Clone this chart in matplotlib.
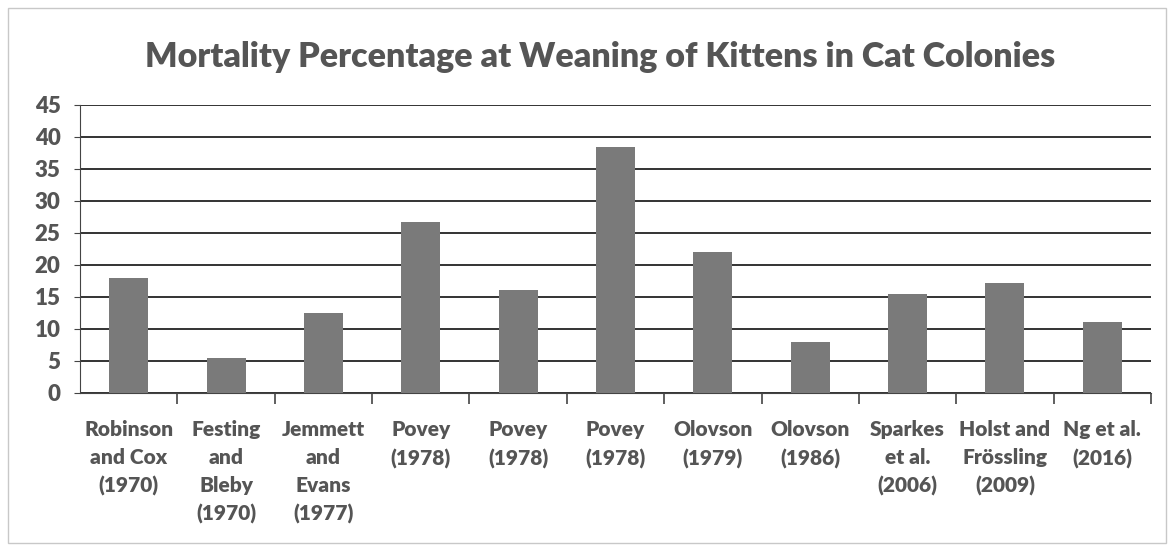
import numpy as np
import matplotlib
matplotlib.use("Agg")
import matplotlib.pyplot as plt
from matplotlib.ticker import FixedLocator

# Dados
estudos = [
    "Robinson\nand Cox\n(1970)",
    "Festing\nand\nBleby\n(1970)",
    "Jemmett\nand\nEvans\n(1977)",
    "Povey\n(1978)",
    "Povey\n(1978)",
    "Povey\n(1978)",
    "Olovson\n(1979)",
    "Olovson\n(1986)",
    "Sparkes\net al.\n(2006)",
    "Holst and\nFrössling\n(2009)",
    "Ng et al.\n(2016)",
]
mortalidade = [17.9, 5.4, 12.4, 26.7, 16.0, 38.4, 22.0, 8.0, 15.4, 17.1, 11.0]
y_ticks = [0, 5, 10, 15, 20, 25, 30, 35, 40, 45]

cor_texto = "#555555"
plt.rcParams["font.family"] = ["Lato", "DejaVu Sans"]

fig = plt.figure(figsize=(11.7, 5.46), dpi=100)
ax = fig.add_axes([80 / 1170, 1 - 392.7 / 546, (1151 - 80) / 1170, 288 / 546])

x = np.arange(len(estudos))
ax.bar(x, mortalidade, width=0.4, color="#7a7a7a", zorder=3)

ax.set_xlim(-0.5, len(estudos) - 0.5)
ax.set_ylim(0, 45)
ax.set_yticks(y_ticks)
ax.set_yticklabels([str(v) for v in y_ticks], fontsize=16, fontweight="heavy", color=cor_texto)
ax.yaxis.grid(True, color="#333333", linewidth=1.4, zorder=0)
ax.tick_params(axis="y", length=4, color="#444444", pad=10)

ax.set_xticks(x)
ax.set_xticklabels(estudos, fontsize=15, fontweight="heavy", color=cor_texto, linespacing=1.55)
ax.tick_params(axis="x", length=0, pad=20)
# marcas entre categorias
ax.xaxis.set_minor_locator(FixedLocator(np.arange(0.5, len(estudos), 1.0)))
ax.tick_params(axis="x", which="minor", length=8, width=1.2, color="#444444", direction="out")

for lado in ["top", "right"]:
    ax.spines[lado].set_visible(False)
ax.spines["left"].set_color("#444444")
ax.spines["bottom"].set_color("#444444")

fig.text(600 / 1170, 1 - 57 / 546, "Mortality Percentage at Weaning of Kittens in Cat Colonies",
         ha="center", va="center", fontsize=24.5, fontweight="heavy", color=cor_texto)

# moldura do gráfico
moldura = plt.Rectangle((8 / 1170, 1 - 543 / 546), 1158 / 1170, 535 / 546, transform=fig.transFigure,
                        fill=False, edgecolor="#c8c8c8", linewidth=1)
fig.add_artist(moldura)

fig.savefig("out.png", dpi=100)
